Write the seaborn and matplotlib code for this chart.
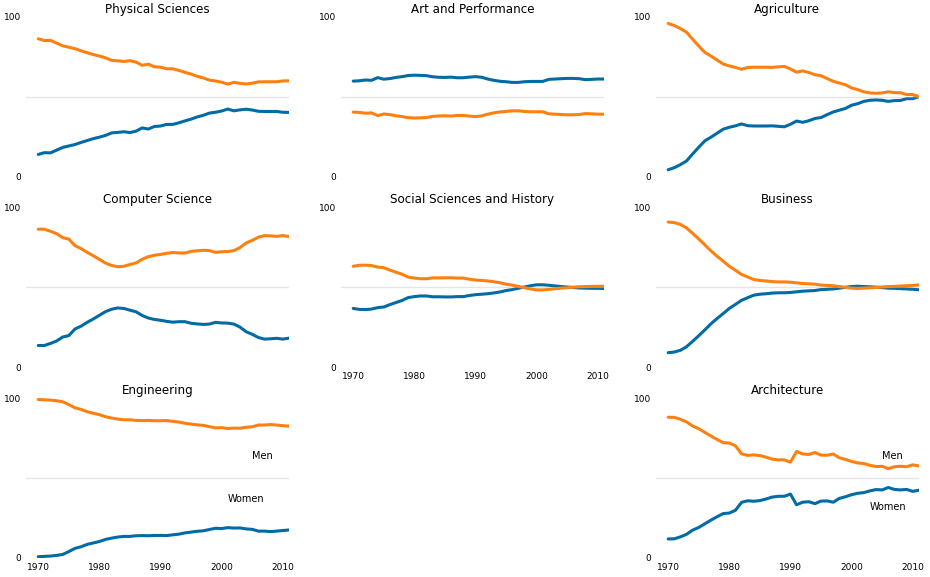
import pandas as pd
import seaborn as sns
import matplotlib.pyplot as plt

years = list(range(1970, 2012))

# percent of bachelor degrees awarded to women, per major
physical_sciences = [13.8, 14.9, 14.8, 16.5, 18.2, 19.1, 20.0, 21.3, 22.5, 23.7,
                     24.6, 25.7, 27.3, 27.6, 28.0, 27.5, 28.4, 30.4, 29.7, 31.3,
                     31.6, 32.6, 32.6, 33.6, 34.8, 35.9, 37.3, 38.3, 39.7, 40.2,
                     41.0, 42.2, 41.1, 41.7, 42.1, 41.6, 40.8, 40.7, 40.7, 40.7,
                     40.2, 40.1]
art_performance = [59.7, 59.9, 60.4, 60.2, 61.9, 60.9, 61.3, 62.0, 62.5, 63.2,
                   63.4, 63.3, 63.1, 62.4, 62.1, 62.0, 62.2, 61.8, 61.8, 62.2,
                   62.5, 62.1, 61.0, 60.2, 59.6, 59.3, 58.9, 58.9, 59.3, 59.5,
                   59.5, 59.5, 60.8, 61.0, 61.2, 61.4, 61.4, 61.2, 60.6, 60.8,
                   61.0, 61.0]
agriculture = [4.2, 5.5, 7.4, 9.7, 14.1, 18.3, 22.3, 24.6, 27.1, 29.6,
               30.8, 31.7, 32.9, 31.8, 31.6, 31.6, 31.6, 31.7, 31.4, 31.1,
               32.7, 34.7, 33.9, 34.9, 36.3, 36.9, 38.7, 40.4, 41.5, 42.6,
               44.6, 45.6, 47.0, 47.7, 47.9, 47.7, 47.0, 47.5, 47.6, 48.7,
               48.7, 50.0]
computer_science = [13.6, 13.6, 14.9, 16.4, 18.9, 19.8, 23.9, 25.7, 28.1, 30.2,
                    32.5, 34.8, 36.3, 37.1, 36.8, 35.7, 34.7, 32.4, 30.8, 29.9,
                    29.4, 28.7, 28.2, 28.5, 28.5, 27.5, 27.1, 26.8, 27.0, 28.1,
                    27.7, 27.6, 27.0, 25.1, 22.2, 20.6, 18.6, 17.6, 17.8, 18.1,
                    17.6, 18.2]
social_sciences = [36.8, 36.2, 36.1, 36.4, 37.3, 37.7, 39.2, 40.5, 41.8, 43.6,
                   44.2, 44.6, 44.6, 44.1, 44.1, 44.0, 44.0, 44.2, 44.2, 44.9,
                   45.4, 45.7, 46.0, 46.5, 47.1, 48.0, 48.6, 49.4, 50.2, 51.0,
                   51.6, 51.6, 51.3, 50.9, 50.5, 50.2, 49.9, 49.6, 49.5, 49.4,
                   49.4, 49.3]
business = [9.1, 9.5, 10.6, 12.8, 16.2, 19.7, 23.4, 27.2, 30.5, 33.6,
            36.8, 39.3, 41.9, 43.5, 45.1, 45.7, 46.0, 46.4, 46.6, 46.6,
            46.8, 47.2, 47.6, 47.8, 48.0, 48.6, 48.8, 49.0, 49.5, 50.0,
            50.5, 50.7, 50.5, 50.3, 50.1, 49.8, 49.5, 49.4, 49.2, 49.0,
            48.8, 48.5]
engineering = [0.8, 1.0, 1.2, 1.6, 2.2, 4.0, 6.0, 7.0, 8.5, 9.4,
               10.3, 11.6, 12.4, 13.1, 13.5, 13.5, 13.9, 14.0, 13.9, 14.1,
               14.1, 14.0, 14.5, 14.9, 15.7, 16.2, 16.7, 17.0, 17.8, 18.6,
               18.4, 19.0, 18.7, 18.8, 18.2, 17.9, 16.8, 16.8, 16.5, 16.8,
               17.2, 17.5]
architecture = [11.9, 12.0, 13.2, 14.8, 17.4, 19.1, 21.4, 23.7, 25.8, 27.8,
                28.1, 29.8, 34.8, 35.8, 35.5, 35.9, 36.9, 38.1, 38.6, 38.6,
                40.0, 33.3, 34.9, 35.2, 34.0, 35.6, 35.7, 34.9, 37.3, 38.3,
                39.6, 40.5, 40.9, 42.0, 42.8, 42.6, 44.1, 42.9, 42.6, 42.9,
                41.7, 42.4]

majors = {'Physical Sciences': physical_sciences,
          'Art and Performance': art_performance,
          'Agriculture': agriculture,
          'Computer Science': computer_science,
          'Social Sciences and History': social_sciences,
          'Business': business,
          'Engineering': engineering,
          None: None,
          'Architecture': architecture}

rows = []
for major, women in majors.items():
    if women is None:
        continue
    for y, w in zip(years, women):
        rows.append({'major': major, 'year': y, 'pct': w, 'gender': 'Women'})
        rows.append({'major': major, 'year': y, 'pct': 100 - w, 'gender': 'Men'})
df = pd.DataFrame(rows)

cb_dark_blue = (0/255, 107/255, 164/255)
cb_orange = (255/255, 128/255, 14/255)
palette = {'Women': cb_dark_blue, 'Men': cb_orange}

sns.set_style('white')
plt.rcParams['font.family'] = ['DejaVu Sans']
plt.rcParams['text.color'] = 'black'
plt.rcParams['xtick.color'] = 'black'
plt.rcParams['ytick.color'] = 'black'
plt.rcParams['axes.titlecolor'] = 'black'

fig, axes = plt.subplots(3, 3, figsize=(9.3, 5.77), dpi=100)
plt.subplots_adjust(left=0.028, right=0.988, bottom=0.033, top=0.971,
                    wspace=0.198, hspace=0.194)

for ax, (major, women) in zip(axes.flat, majors.items()):
    if major is None:
        ax.axis('off')
        continue
    sub = df[df['major'] == major]
    sns.lineplot(data=sub, x='year', y='pct', hue='gender',
                 hue_order=['Women', 'Men'], palette=palette,
                 linewidth=2.2, legend=False, ax=ax)
    ax.axhline(50, c=(171/255, 171/255, 171/255), alpha=0.3, linewidth=1)
    ax.set_xlim(1968, 2011)
    ax.set_ylim(0, 100)
    ax.set_title(major, fontsize=8.6, pad=3)
    ax.set_xlabel('')
    ax.set_ylabel('')
    for s in ax.spines.values():
        s.set_visible(False)
    ax.set_yticks([0, 100])
    ax.set_xticks([1970, 1980, 1990, 2000, 2010])
    ax.tick_params(length=0, labelsize=6.5)
    if major not in ('Engineering', 'Architecture', 'Social Sciences and History'):
        ax.tick_params(labelbottom=False)

axes[2, 0].text(2005, 62, 'Men', fontsize=7)
axes[2, 0].text(2001, 35, 'Women', fontsize=7)
axes[2, 2].text(2005, 62, 'Men', fontsize=7)
axes[2, 2].text(2003, 30, 'Women', fontsize=7)

plt.savefig('out.png')
